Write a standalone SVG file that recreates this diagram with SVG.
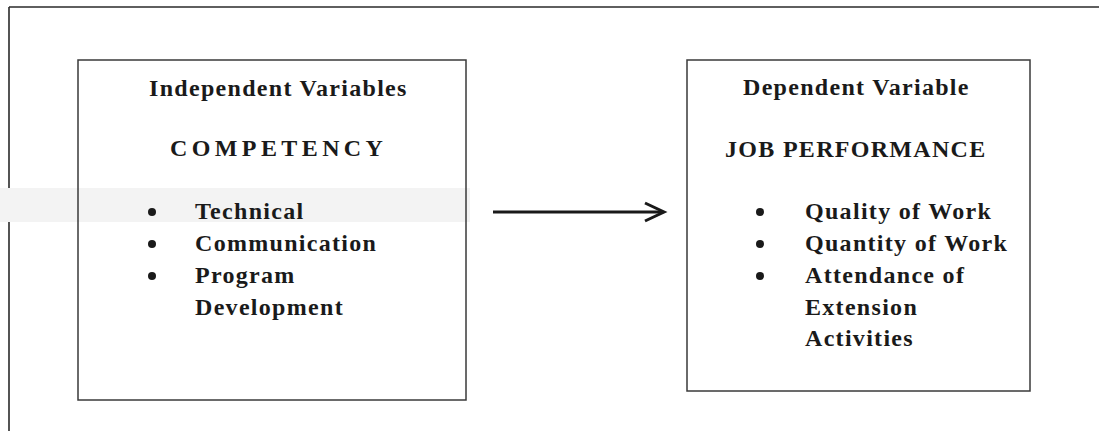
<svg xmlns="http://www.w3.org/2000/svg" width="1099" height="431" viewBox="0 0 1099 431">
  <style>
    .frame { fill: none; stroke: #2a2a2a; stroke-width: 1.6; }
    .box { fill: #ffffff; stroke: #3a3a3a; stroke-width: 1.5; }
    .t { font-family: "Liberation Serif", "Times New Roman", serif; font-weight: bold; font-size: 24px; fill: #1a1a1a; letter-spacing: 1.3px; }
    .wide { letter-spacing: 4.4px; }
    .bullet { fill: #1a1a1a; }
    .conn { fill: none; stroke: #1a1a1a; stroke-width: 3; }
  </style>
  <rect x="0" y="0" width="1099" height="431" fill="#ffffff"/>
  <g id="frame">
    <line class="frame" x1="9" y1="7" x2="1099" y2="7"/>
    <line class="frame" x1="9" y1="7" x2="9" y2="431"/>
  </g>
  <rect x="0" y="188" width="470" height="34" fill="#f3f3f3"/>
  <g id="independent">
    <rect class="box" x="78" y="60" width="388" height="340" fill-opacity="0"/>
    <text class="t" x="149" y="96">Independent Variables</text>
    <text class="t wide" x="170" y="156">COMPETENCY</text>
    <circle class="bullet" cx="152" cy="212" r="4"/>
    <text class="t" x="195" y="219">Technical</text>
    <circle class="bullet" cx="152" cy="244" r="4"/>
    <text class="t" x="195" y="251">Communication</text>
    <circle class="bullet" cx="152" cy="276" r="4"/>
    <text class="t" x="195" y="283">Program</text>
    <text class="t" x="195" y="315">Development</text>
  </g>
  <g id="dependent">
    <rect class="box" x="687" y="60" width="343" height="331"/>
    <text class="t" x="743" y="95">Dependent Variable</text>
    <text class="t" x="725" y="157">JOB PERFORMANCE</text>
    <circle class="bullet" cx="760" cy="212" r="4"/>
    <text class="t" x="805" y="219">Quality of Work</text>
    <circle class="bullet" cx="760" cy="244" r="4"/>
    <text class="t" x="805" y="251">Quantity of Work</text>
    <circle class="bullet" cx="760" cy="276" r="4"/>
    <text class="t" x="805" y="283">Attendance of</text>
    <text class="t" x="805" y="315">Extension</text>
    <text class="t" x="805" y="346">Activities</text>
  </g>
  <g id="connectors">
    <line class="conn" x1="493" y1="212" x2="662" y2="212"/>
    <path class="conn" d="M645,203 L664,212 L645,221" stroke-linejoin="miter"/>
  </g>
</svg>
